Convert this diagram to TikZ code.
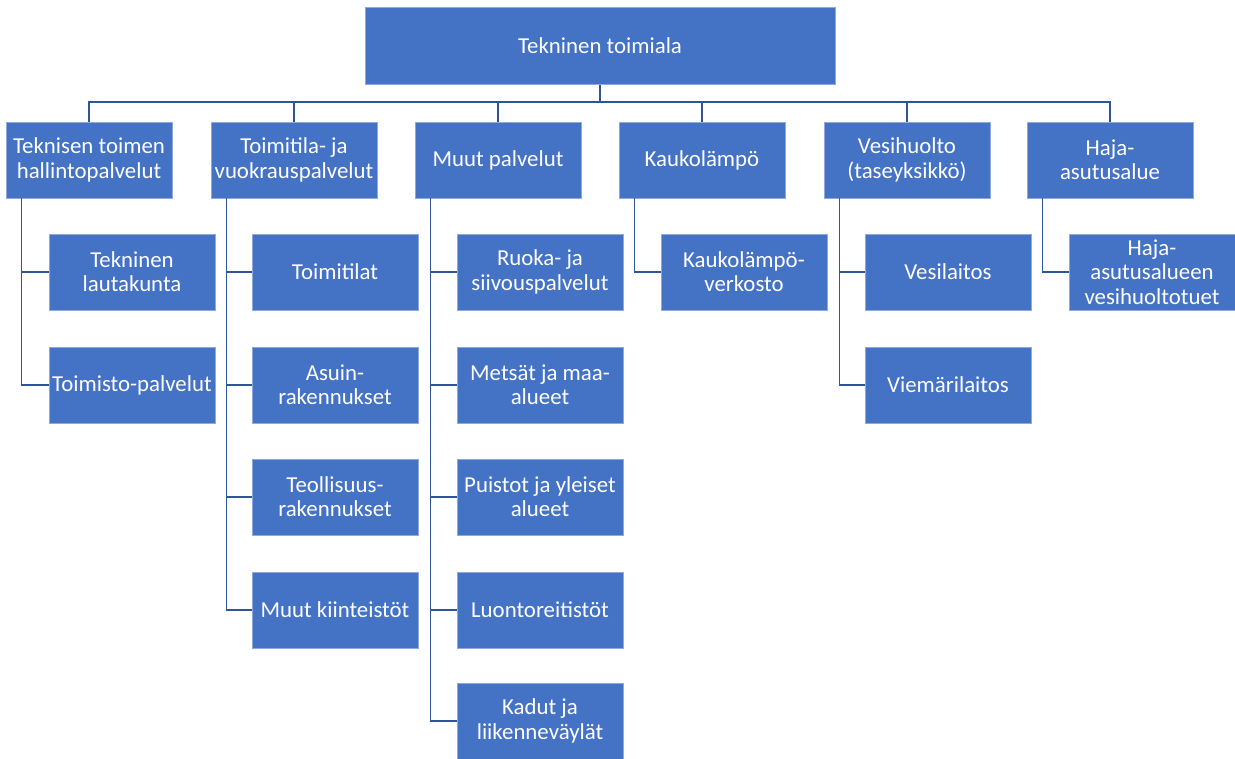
\documentclass[tikz,border=0pt]{standalone}
\usepackage{fontspec}
\setmainfont{Carlito}
\definecolor{boxblue}{HTML}{4472C4}
\definecolor{boxedge}{HTML}{8EA9DB}
\definecolor{linkblue}{HTML}{2F5597}
\tikzset{
  unitbox/.style={rectangle, draw=boxedge, line width=0.5pt, fill=boxblue, text=white,
    align=center, font=\fontsize{13}{13.8}\selectfont, inner sep=1pt,
    minimum width=3.32cm, minimum height=1.52cm},
  link/.style={draw=linkblue, line width=0.9pt}
}
\begin{document}
\begin{tikzpicture}[x=0.02cm, y=-0.02cm]
      \useasboundingbox (0,0) rectangle (1235,758);

      % top
      \node[unitbox, minimum width=9.4cm, minimum height=1.54cm] (top) at (600, 46) {Tekninen toimiala};
      \coordinate (bus) at (600, 102);

      % units
      \node[unitbox] (g1) at (89, 160) {Teknisen toimen\\hallintopalvelut};
      \node[unitbox] (g2) at (294, 160) {Toimitila- ja\\vuokrauspalvelut};
      \node[unitbox] (g3) at (498, 160) {Muut palvelut};
      \node[unitbox] (g4) at (702, 160) {Kaukolämpö};
      \node[unitbox] (g5) at (907, 160) {Vesihuolto\\(taseyksikkö)};
      \node[unitbox] (g6) at (1110, 160) {Haja-\\asutusalue};

      % sub units
      \node[unitbox] (c11) at (132, 272) {Tekninen\\lautakunta};
      \node[unitbox] (c12) at (132, 385) {Toimisto-palvelut};

      \node[unitbox] (c21) at (335, 272) {Toimitilat};
      \node[unitbox] (c22) at (335, 385) {Asuin-\\rakennukset};
      \node[unitbox] (c23) at (335, 497) {Teollisuus-\\rakennukset};
      \node[unitbox] (c24) at (335, 610) {Muut kiinteistöt};

      \node[unitbox] (c31) at (540, 272) {Ruoka- ja\\siivouspalvelut};
      \node[unitbox] (c32) at (540, 385) {Metsät ja maa-\\alueet};
      \node[unitbox] (c33) at (540, 497) {Puistot ja yleiset\\alueet};
      \node[unitbox] (c34) at (540, 610) {Luontoreitistöt};
      \node[unitbox] (c35) at (540, 721) {Kadut ja\\liikenneväylät};

      \node[unitbox] (c41) at (744, 272) {Kaukolämpö-\\verkosto};

      \node[unitbox] (c51) at (948, 272) {Vesilaitos};
      \node[unitbox] (c52) at (948, 385) {Viemärilaitos};

      \node[unitbox] (c61) at (1152, 272) {Haja-\\asutusalueen\\vesihuoltotuet};

      % bus
      \draw[link] (top.south) -- (bus);
      \draw[link] (g1.north) |- (bus) -| (g6.north);
      \draw[link] (g2.north) -- (g2.north |- bus);
      \draw[link] (g3.north) -- (g3.north |- bus);
      \draw[link] (g4.north) -- (g4.north |- bus);
      \draw[link] (g5.north) -- (g5.north |- bus);

      % branches
      \draw[link] ([xshift=0.32cm]g1.south west) |- (c11.west);
      \draw[link] ([xshift=0.32cm]g1.south west) |- (c12.west);
      \draw[link] ([xshift=0.32cm]g2.south west) |- (c21.west);
      \draw[link] ([xshift=0.32cm]g2.south west) |- (c22.west);
      \draw[link] ([xshift=0.32cm]g2.south west) |- (c23.west);
      \draw[link] ([xshift=0.32cm]g2.south west) |- (c24.west);
      \draw[link] ([xshift=0.32cm]g3.south west) |- (c31.west);
      \draw[link] ([xshift=0.32cm]g3.south west) |- (c32.west);
      \draw[link] ([xshift=0.32cm]g3.south west) |- (c33.west);
      \draw[link] ([xshift=0.32cm]g3.south west) |- (c34.west);
      \draw[link] ([xshift=0.32cm]g3.south west) |- (c35.west);
      \draw[link] ([xshift=0.32cm]g4.south west) |- (c41.west);
      \draw[link] ([xshift=0.32cm]g5.south west) |- (c51.west);
      \draw[link] ([xshift=0.32cm]g5.south west) |- (c52.west);
      \draw[link] ([xshift=0.32cm]g6.south west) |- (c61.west);
\end{tikzpicture}
\end{document}
